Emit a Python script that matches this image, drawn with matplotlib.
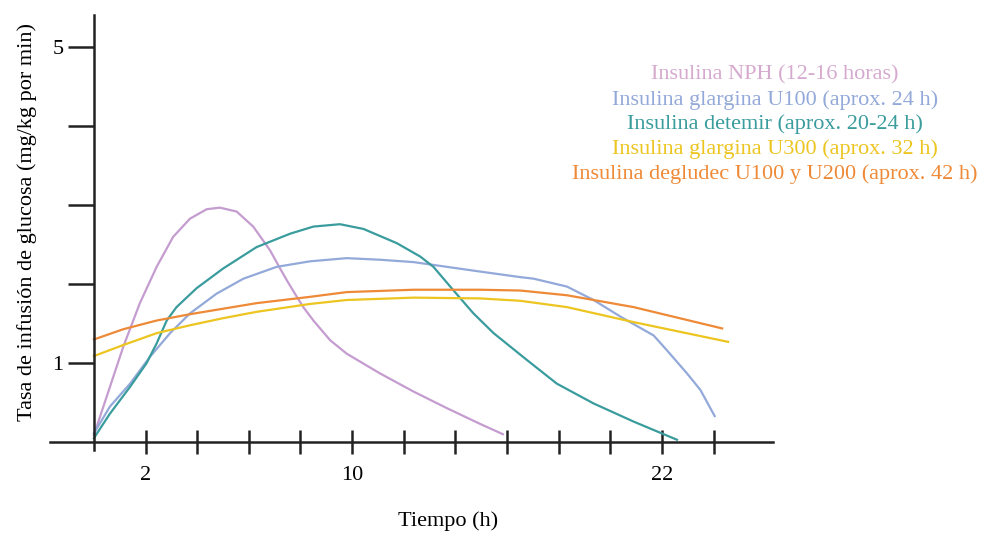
import matplotlib.pyplot as plt

plt.rcParams['font.family'] = ['Liberation Serif', 'DejaVu Serif']

# values (hours, mg/kg per min)
nph_x = [0, 0.49, 1.14, 1.78, 2.43, 3.07, 3.72, 4.37, 4.88, 5.53, 6.17, 6.82, 7.21, 7.47,
         7.86, 8.11, 8.5, 9.15, 9.79, 11.08, 12.38, 13.67, 14.96, 15.84]
nph_y = [0.09, 0.57, 1.21, 1.76, 2.22, 2.60, 2.83, 2.95, 2.97, 2.92, 2.73, 2.43, 2.20, 2.05,
         1.84, 1.71, 1.54, 1.29, 1.12, 0.87, 0.64, 0.43, 0.23, 0.10]

u100_x = [0, 0.62, 1.40, 2.17, 2.95, 3.72, 4.75, 5.79, 7.08, 8.37, 9.79, 11.08, 12.38,
          13.67, 14.96, 16.51, 17.03, 18.32, 19.35, 20.39, 21.68, 22.2, 22.97, 23.49, 24.04]
u100_y = [0.11, 0.45, 0.74, 1.08, 1.38, 1.63, 1.88, 2.07, 2.22, 2.29, 2.33, 2.31, 2.28,
          2.22, 2.16, 2.09, 2.07, 1.97, 1.80, 1.59, 1.35, 1.16, 0.87, 0.66, 0.33]

detemir_x = [0, 0.62, 1.40, 2.04, 2.43, 2.82, 3.20, 3.98, 5.01, 6.30, 7.60, 8.5, 9.53,
             10.44, 11.73, 12.64, 13.15, 13.93, 14.7, 15.48, 16.77, 17.93, 19.35, 20.9, 22.58]
detemir_y = [0.05, 0.36, 0.70, 1.00, 1.25, 1.54, 1.71, 1.95, 2.20, 2.47, 2.64, 2.73, 2.76,
             2.70, 2.52, 2.35, 2.22, 1.92, 1.63, 1.38, 1.04, 0.74, 0.49, 0.26, 0.03]

u300_x = [0, 1.14, 2.43, 3.72, 5.01, 6.30, 8.37, 9.79, 12.38, 14.96, 16.51, 18.32, 20.9, 24.56]
u300_y = [1.09, 1.23, 1.38, 1.48, 1.57, 1.65, 1.75, 1.80, 1.83, 1.82, 1.79, 1.71, 1.52, 1.27]

degludec_x = [0, 1.14, 2.43, 3.72, 5.01, 6.30, 8.37, 9.79, 12.38, 14.96, 16.51, 18.32, 20.9,
              24.33]
degludec_y = [1.30, 1.43, 1.54, 1.62, 1.69, 1.76, 1.84, 1.90, 1.93, 1.93, 1.92, 1.86, 1.71,
              1.44]

labels = ['Insulina NPH (12-16 horas)',
          'Insulina glargina U100 (aprox. 24 h)',
          'Insulina detemir (aprox. 20-24 h)',
          'Insulina glargina U300 (aprox. 32 h)',
          'Insulina degludec U100 y U200 (aprox. 42 h)']
colors = ['#c59ccf', '#93a9d9', '#3a9c9d', '#ecc520', '#ee8a37']
text_colors = ['#d6a9cf', '#93a9d9', '#3a9c9d', '#ecc520', '#ee8a37']

x_ticks = [2, 4, 6, 8, 10, 12, 14, 16, 18, 20, 22, 24]
x_labels = ['2', '', '', '', '10', '', '', '', '', '', '22', '']
y_ticks = [1, 2, 3, 4, 5]
y_labels = ['1', '', '', '', '5']

fig = plt.figure(figsize=(9.84, 5.33), dpi=100)
ax = fig.add_axes([50 / 984, 83 / 533, 723 / 984, 435 / 533])

series = [(nph_x, nph_y), (u100_x, u100_y), (detemir_x, detemir_y),
          (u300_x, u300_y), (degludec_x, degludec_y)]
for (xs, ys), c in zip(series, colors):
    ax.plot(xs, ys, color=c, lw=1.6, solid_joinstyle='round')

ax.set_xlim(-1.7, 26.3)
ax.set_ylim(-0.1, 5.41)

for s in ['top', 'right']:
    ax.spines[s].set_visible(False)
ax.spines['left'].set_position(('data', 0))
ax.spines['bottom'].set_position(('data', 0))
for s in ['left', 'bottom']:
    ax.spines[s].set_linewidth(1.8)
    ax.spines[s].set_color('#222222')

ax.set_xticks(x_ticks)
ax.set_xticklabels(x_labels, fontsize=16)
ax.tick_params(axis='x', direction='inout', length=17, width=1.8, color='#222222', pad=9)
ax.set_yticks(y_ticks)
ax.set_yticklabels(y_labels, fontsize=16)
ax.tick_params(axis='y', direction='out', length=19, width=1.8, color='#222222', pad=3)

fig.text(448 / 984, 1 - 521 / 533, 'Tiempo (h)', fontsize=16, ha='center', va='center')
fig.text(27 / 984, 1 - 222 / 533, 'Tasa de infusión de glucosa (mg/kg por min)',
         fontsize=16, rotation=90, ha='center', va='center')

for i, (lab, c) in enumerate(zip(labels, text_colors)):
    fig.text(775 / 984, 1 - (75 + i * 24.75) / 533, lab, color=c, fontsize=16,
             ha='center', va='center')

plt.savefig('out.png', dpi=100)
